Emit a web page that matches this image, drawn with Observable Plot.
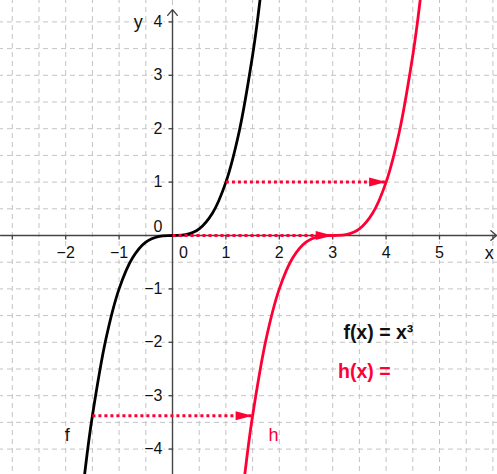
<!DOCTYPE html>
<html><head><meta charset="utf-8">
<script src="https://cdn.jsdelivr.net/npm/d3@7"></script>
<script src="https://cdn.jsdelivr.net/npm/@observablehq/plot@0.6"></script>
<style>body{margin:0;background:#fff}#chart svg{display:block}</style>
</head><body><div id="chart"></div>
<script>
const fX = [-1.75,-1.6,-1.5,-1.25,-1,-0.75,-0.5,-0.25,0,0.25,0.5,0.75,1,1.25,1.5,1.6,1.75];
const fY = [-5.359,-4.096,-3.375,-1.953,-1,-0.422,-0.125,-0.016,0,0.016,0.125,0.422,1,1.953,3.375,4.096,5.359];
// h(x) = f shifted 3 to the right
const hX = [1.25,1.4,1.5,1.75,2,2.25,2.5,2.75,3,3.25,3.5,3.75,4,4.25,4.5,4.6,4.75];
const hY = [-5.359,-4.096,-3.375,-1.953,-1,-0.422,-0.125,-0.016,0,0.016,0.125,0.422,1,1.953,3.375,4.096,5.359];
// dotted shift arrows
const arrowX1 = [1, 0, -1.5];
const arrowX2 = [4, 3, 1.5];
const arrowY = [1, 0, -3.375];
// ticks and grid
const xTickLabels = [-2, -1, 0, 1, 2, 3, 4, 5];
const yTickLabels = [-4, -3, -2, -1, 0, 1, 2, 3, 4];
const xTickMarks = [-3, -2, -1, 1, 2, 3, 4, 5, 6];
const yTickMarks = [-4, -3, -2, -1, 1, 2, 3, 4];
const gridX = [-3, -2.5, -2, -1.5, -1, -0.5, 0.5, 1, 1.5, 2, 2.5, 3, 3.5, 4, 4.5, 5, 5.5, 6];
const gridY = [-4.5, -4, -3.5, -3, -2.5, -2, -1.5, -1, -0.5, 0.5, 1, 1.5, 2, 2.5, 3, 3.5, 4];
const xDomain = [-3.221, 6.086];
const yDomain = [-4.476, 4.401];
const yAxisTop = 4.23;
const xAxisEnd = 6.07;

const RED = "#ff0035";
const FONT = "Liberation Sans, Arial, sans-serif";

const fData = fX.map((x, i) => ({x, y: fY[i]}));
const hData = hX.map((x, i) => ({x, y: hY[i]}));
const arrows = arrowX1.map((x1, i) => ({x1, x2: arrowX2[i], y: arrowY[i]}));

const arrowHead = {draw(ctx) { ctx.moveTo(0, 0); ctx.lineTo(-17, -4.5); ctx.lineTo(-17, 4.5); ctx.closePath(); }};
const tickDown = {draw(ctx) { ctx.moveTo(0, 0); ctx.lineTo(0, 4); }};
const tickLeft = {draw(ctx) { ctx.moveTo(0, 0); ctx.lineTo(-4, 0); }};

const chart = Plot.plot({
  width: 497, height: 474,
  margin: 0,
  style: {fontFamily: FONT, background: "#fff"},
  x: {domain: xDomain, axis: null},
  y: {domain: yDomain, axis: null},
  marks: [
    Plot.ruleX(gridX, {stroke: "#c4c4c4", strokeWidth: 1, strokeDasharray: "5,4", strokeDashoffset: 2}),
    Plot.ruleY(gridY, {stroke: "#c4c4c4", strokeWidth: 1, strokeDasharray: "5,4", strokeDashoffset: 2}),
    Plot.ruleX([0], {stroke: "#c4c4c4", strokeWidth: 1, strokeDasharray: "5,4"}),
    Plot.ruleY([0], {stroke: "#c4c4c4", strokeWidth: 1, strokeDasharray: "5,4"}),
    // axes
    Plot.arrow([0], {x1: () => xDomain[0], x2: () => xAxisEnd, y1: () => 0, y2: () => 0, stroke: "#444", strokeWidth: 1.4, headLength: 8, headAngle: 80}),
    Plot.arrow([0], {x1: () => 0, x2: () => 0, y1: () => yDomain[0], y2: () => yAxisTop, stroke: "#444", strokeWidth: 1.4, headLength: 8, headAngle: 80}),
    Plot.dot(xTickMarks, {x: d => d, y: () => 0, symbol: tickDown, stroke: "#444", fill: "none", strokeWidth: 1.3}),
    Plot.dot(yTickMarks, {x: () => 0, y: d => d, symbol: tickLeft, stroke: "#444", fill: "none", strokeWidth: 1.3}),
    // tick labels
    Plot.text(xTickLabels.filter(d => d !== 0), {x: d => d, y: () => 0, text: d => d < 0 ? "\u2212" + Math.abs(d) : String(d), dy: 17, fontSize: 16, fill: "#111", stroke: "white", strokeWidth: 4}),
    Plot.text([0], {x: d => d, y: () => 0, text: d => String(d), dy: 17, dx: 11, fontSize: 16, fill: "#111", stroke: "white", strokeWidth: 4}),
    Plot.text(yTickLabels.filter(d => d !== 0), {x: () => 0, y: d => d, text: d => d < 0 ? "\u2212" + Math.abs(d) : String(d), dx: -10, textAnchor: "end", fontSize: 16, fill: "#111", stroke: "white", strokeWidth: 4}),
    Plot.text([0], {x: () => 0, y: d => d, text: d => String(d), dx: -10, dy: -9, textAnchor: "end", fontSize: 16, fill: "#111", stroke: "white", strokeWidth: 4}),
    Plot.text(["y"], {x: () => -0.64, y: () => 3.99, text: d => d, fontSize: 18, fill: "#111"}),
    Plot.text(["x"], {x: () => 5.93, y: () => -0.33, text: d => d, fontSize: 18, fill: "#111"}),
    // curves
    Plot.line(fData, {x: "x", y: "y", stroke: "#000", strokeWidth: 2.8, curve: "catmull-rom", clip: true}),
    Plot.line(hData, {x: "x", y: "y", stroke: RED, strokeWidth: 2.8, curve: "catmull-rom", clip: true}),
    // dotted shift arrows
    Plot.link(arrows, {x1: "x1", x2: "x2", y1: "y", y2: "y", stroke: RED, strokeWidth: 3, strokeDasharray: "3,3", strokeLinecap: "butt"}),
    Plot.dot(arrows, {x: "x2", y: "y", symbol: arrowHead, fill: RED, stroke: "none"}),
    // labels
    Plot.text(["f"], {x: () => -1.97, y: () => -3.75, text: d => d, fontSize: 18, fill: "#111"}),
    Plot.text(["h"], {x: () => 1.89, y: () => -3.75, text: d => d, fontSize: 18, fill: RED}),
    Plot.text(["f(x) = x\u00b3"], {x: () => 3.2, y: () => -1.83, text: d => d, textAnchor: "start", fontSize: 19.5, fontWeight: "bold", fill: "#111"}),
    Plot.text(["h(x) ="], {x: () => 3.1, y: () => -2.55, text: d => d, textAnchor: "start", fontSize: 19.5, fontWeight: "bold", fill: RED})
  ]
});
document.getElementById("chart").append(chart);
</script>
</body></html>
